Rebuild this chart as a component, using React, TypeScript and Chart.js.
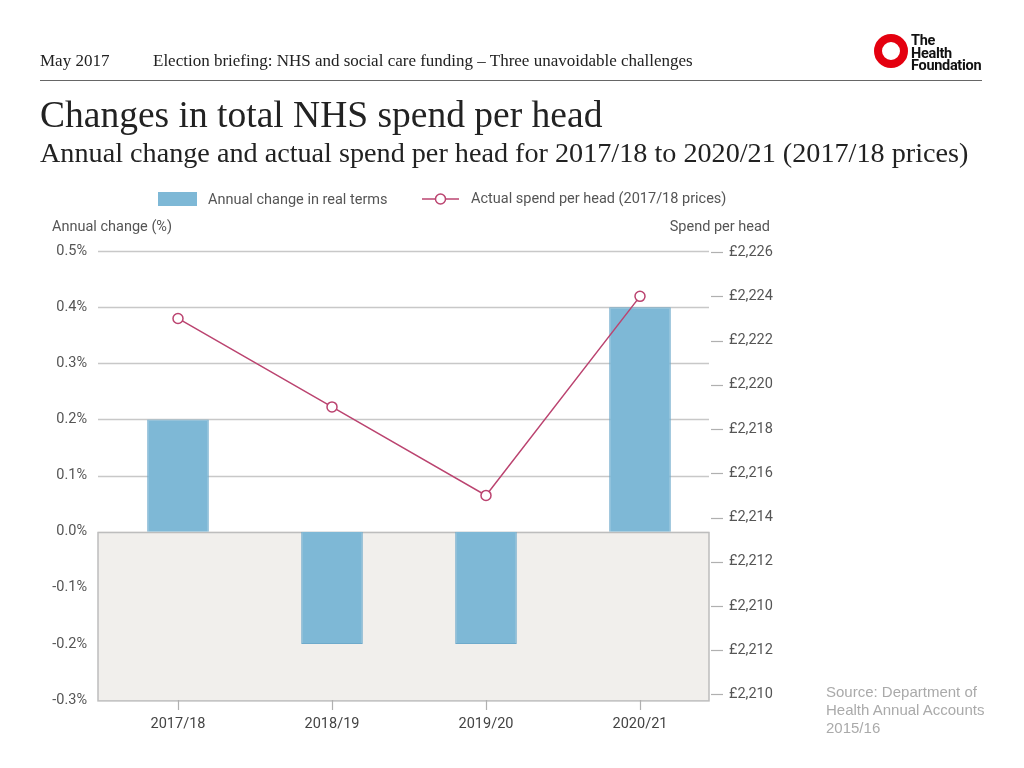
import React, { useEffect, useRef } from "react";
import { Chart, registerables } from "chart.js";

Chart.register(...registerables);

const categories = ["2017/18", "2018/19", "2019/20", "2020/21"];
const annualChange = [0.2, -0.2, -0.2, 0.4];
const spendPerHead = [2223, 2219, 2215, 2224];
const changeTicks = [-0.3, -0.2, -0.1, 0, 0.1, 0.2, 0.3, 0.4, 0.5];
const spendTickValues = [2226, 2224, 2222, 2220, 2218, 2216, 2214, 2212, 2210, 2208, 2206];
const spendTickLabels = [
  "£2,226", "£2,224", "£2,222", "£2,220", "£2,218", "£2,216",
  "£2,214", "£2,212", "£2,210", "£2,212", "£2,210",
];

const BAR_COLOR = "#7eb8d6";
const BAR_BORDER = "#6eaacb";
const LINE_COLOR = "#bb4470";
const TEXT = "#555";
const FONT = "Roboto, 'Liberation Sans', sans-serif";
const FS = 14.5;

const decor = {
  id: "decor",
  beforeDatasetsDraw(chart: any) {
    const ctx = chart.ctx;
    const y = chart.scales.y;
    const y2 = chart.scales.y2;
    const x = chart.scales.x;
    const L = 98, R = 709;
    const zero = y.getPixelForValue(0);
    const bottom = y.getPixelForValue(changeTicks[0]);
    ctx.save();
    ctx.fillStyle = "#f1efec";
    ctx.fillRect(L, zero, R - L, bottom - zero);
    ctx.strokeStyle = "#c8c8c8";
    ctx.lineWidth = 1.5;
    for (const v of changeTicks) {
      if (v <= 0) continue;
      const py = Math.round(y.getPixelForValue(v)) + 0.5;
      ctx.beginPath();
      ctx.moveTo(L, py);
      ctx.lineTo(R, py);
      ctx.stroke();
    }
    ctx.strokeStyle = "#bdbdbd";
    ctx.lineWidth = 1.5;
    ctx.strokeRect(L, Math.round(zero) + 0.5, R - L, bottom - zero);
    ctx.strokeStyle = "#b0b0b0";
    ctx.lineWidth = 1.2;
    for (const v of spendTickValues) {
      const py = Math.round(y2.getPixelForValue(v)) + 0.5;
      ctx.beginPath();
      ctx.moveTo(711, py);
      ctx.lineTo(723, py);
      ctx.stroke();
    }
    for (let i = 0; i < categories.length; i++) {
      const px = Math.round(x.getPixelForValue(i)) + 0.5;
      ctx.beginPath();
      ctx.moveTo(px, bottom);
      ctx.lineTo(px, bottom + 10);
      ctx.stroke();
    }
    ctx.restore();
  },
  afterDraw(chart: any) {
    const ctx = chart.ctx;
    ctx.save();
    ctx.font = `${FS}px ${FONT}`;
    ctx.textBaseline = "middle";
    // legend
    ctx.fillStyle = BAR_COLOR;
    ctx.fillRect(158, 192, 39, 14);
    ctx.fillStyle = TEXT;
    ctx.textAlign = "left";
    ctx.fillText("Annual change in real terms", 208, 200);
    ctx.strokeStyle = LINE_COLOR;
    ctx.lineWidth = 1.5;
    ctx.beginPath();
    ctx.moveTo(422, 199);
    ctx.lineTo(459, 199);
    ctx.stroke();
    ctx.beginPath();
    ctx.arc(440.5, 199, 5, 0, Math.PI * 2);
    ctx.fillStyle = "#fff";
    ctx.fill();
    ctx.stroke();
    ctx.fillStyle = TEXT;
    ctx.fillText("Actual spend per head (2017/18 prices)", 471, 199);
    // axis titles
    ctx.fillText("Annual change (%)", 52, 227);
    ctx.textAlign = "right";
    ctx.fillText("Spend per head", 770, 227);
    ctx.restore();
  },
};

function ChartBox() {
  const ref = useRef<HTMLCanvasElement | null>(null);
  useEffect(() => {
    if (!ref.current) return;
    const chart = new Chart(ref.current, {
      type: "bar",
      data: {
        labels: categories,
        datasets: [
          {
            type: "line",
            label: "Actual spend per head (2017/18 prices)",
            data: spendPerHead,
            yAxisID: "y2",
            borderColor: LINE_COLOR,
            borderWidth: 1.5,
            pointRadius: 5,
            pointBackgroundColor: "#fff",
            pointBorderColor: LINE_COLOR,
            pointBorderWidth: 1.5,
            tension: 0,
            order: 1,
          } as any,
          {
            type: "bar",
            label: "Annual change in real terms",
            data: annualChange,
            yAxisID: "y",
            backgroundColor: BAR_COLOR,
            borderColor: BAR_BORDER,
            borderWidth: 1,
            barPercentage: 0.4,
            categoryPercentage: 1,
            order: 2,
          } as any,
        ],
      },
      options: {
        responsive: false,
        animation: false,
        devicePixelRatio: 1,
        layout: { padding: { left: 0, top: 251, right: 227, bottom: 28 } },
        plugins: { legend: { display: false }, tooltip: { enabled: false } },
        scales: {
          x: {
            type: "category",
            offset: true,
            grid: { display: false, drawTicks: false },
            border: { display: false },
            ticks: { color: "#444", font: { size: FS, family: FONT }, padding: 16 },
            afterFit: (s: any) => { s.height = 40; },
          },
          y: {
            position: "left",
            min: -0.3,
            max: 0.5,
            grid: { display: false, drawTicks: false },
            border: { display: false },
            afterBuildTicks: (s: any) => { s.ticks = changeTicks.map((v) => ({ value: v })); },
            ticks: {
              color: TEXT,
              font: { size: FS, family: FONT },
              padding: 14,
              callback: (v: any) => Number(v).toFixed(1) + "%",
            },
            afterFit: (s: any) => { s.width = 101; },
          },
          y2: {
            position: "right",
            min: 2205.75,
            max: 2226.05,
            grid: { display: false, drawTicks: false },
            border: { display: false },
            afterBuildTicks: (s: any) => { s.ticks = spendTickValues.map((v) => ({ value: v })); },
            ticks: {
              color: TEXT,
              font: { size: FS, family: FONT },
              padding: 12,
              callback: (v: any) => spendTickLabels[spendTickValues.indexOf(Number(v))],
            },
            afterFit: (s: any) => { s.width = 80; },
          },
        },
      },
      plugins: [decor],
    });
    return () => chart.destroy();
  }, []);
  return <canvas ref={ref} width={1024} height={768} style={{ position: "absolute", left: 0, top: 0 }} />;
}

export default function App() {
  const serif = "'Liberation Serif', 'DejaVu Serif', serif";
  return (
    <div style={{ position: "absolute", left: 0, top: 0, width: 1024, height: 768, background: "#fff", overflow: "hidden" }}>
      <ChartBox />
      <div style={{ position: "absolute", left: 40, top: 52, fontFamily: serif, fontSize: 17, lineHeight: "17px", color: "#222" }}>May 2017</div>
      <div style={{ position: "absolute", left: 153, top: 52, fontFamily: serif, fontSize: 17, lineHeight: "17px", color: "#222", whiteSpace: "nowrap" }}>
        Election briefing: NHS and social care funding – Three unavoidable challenges
      </div>
      <div style={{ position: "absolute", left: 40, top: 80, width: 942, height: 1, background: "#666" }} />
      <div style={{ position: "absolute", left: 874, top: 34, width: 34, height: 34, borderRadius: "50%", border: "8px solid #e4000f", boxSizing: "border-box" }} />
      <div style={{ position: "absolute", left: 911, top: 35, fontFamily: "Roboto, sans-serif", fontWeight: 700, fontSize: 14.5, lineHeight: "12.5px", color: "#111", letterSpacing: -0.3 }}>
        The<br />Health<br />Foundation
      </div>
      <div style={{ position: "absolute", left: 40, top: 95.5, fontFamily: serif, fontSize: 37.5, lineHeight: "37.5px", color: "#222", whiteSpace: "nowrap" }}>
        Changes in total NHS spend per head
      </div>
      <div style={{ position: "absolute", left: 40, top: 138.5, fontFamily: serif, fontSize: 28.2, lineHeight: "28.2px", color: "#222", whiteSpace: "nowrap" }}>
        Annual change and actual spend per head for 2017/18 to 2020/21 (2017/18 prices)
      </div>
      <div style={{ position: "absolute", left: 826, top: 683, fontFamily: "'Liberation Sans', Arial, sans-serif", fontSize: 15, lineHeight: "18px", color: "#aaa" }}>
        Source: Department of<br />Health Annual Accounts<br />2015/16
      </div>
    </div>
  );
}
